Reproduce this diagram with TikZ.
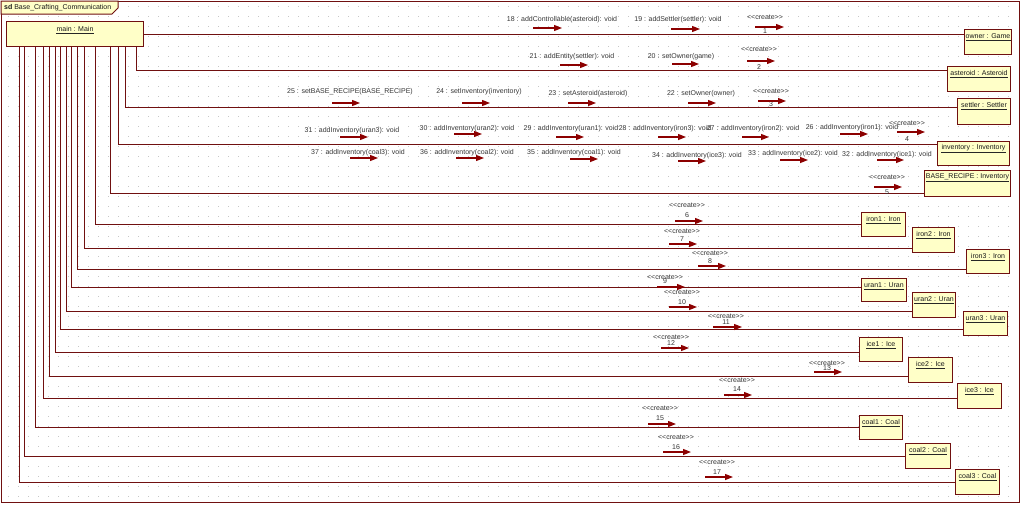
\documentclass[tikz,border=0pt]{standalone}
\usepackage{fontspec}
\setmainfont{Liberation Sans}
\usetikzlibrary{arrows.meta}
\definecolor{ln}{RGB}{112,16,16}
\definecolor{ar}{RGB}{140,0,0}
\definecolor{fillY}{RGB}{255,255,200}
\definecolor{txt}{RGB}{55,55,55}
\tikzset{
  conn/.style={draw=ln, line width=1pt},
  msg/.style={draw=ar, line width=1.3pt, -{Triangle[length=8pt,width=6pt]}},
  obj/.style={draw=ln, fill=fillY, line width=1pt, anchor=north west, inner sep=0pt},
  olbl/.style={font=\fontsize{7}{8}\selectfont, text=black!90, inner sep=0pt, minimum height=7pt},
  mlbl/.style={font=\fontsize{7}{8}\selectfont, text=txt, inner sep=0pt},
  uline/.style={draw=black!85, line width=0.9pt},
  griddot/.style={draw=gray!45, line width=0.8pt, dash pattern=on 0.8pt off 9.2pt},
}
\newcommand\objbox[6]{%
  \node[obj, minimum width=#4pt, minimum height=#5pt] (#1) at (#2,#3) {};
  \node[olbl] (#1L) at ([yshift=-7pt]#1.north) {#6};
  \draw[uline] ([yshift=-0.5pt]#1L.south west) -- ([yshift=-0.5pt]#1L.south east);
}
\newcommand\crmsg[7]{%
  \node[mlbl] (cr#1) at (#2,#3) {{<}{<}create{>}{>}};
  \node[mlbl] (n#1) at (#2,#4) {#1};
  \draw[msg] (#5,#7) -- (#6,#7);
}
\newcommand\opmsg[7]{%
  \node[mlbl] (m#1) at (#2,#3) {#4};
  \draw[msg] (#5,#7) -- (#6,#7);
}
\begin{document}
\begin{tikzpicture}[x=1pt,y=-1pt]
\useasboundingbox (0,0) rectangle (1022,504);
\fill[white] (0,0) rectangle (1022,504);
% grid
\foreach \r in {0,...,49} \draw[griddot] (8,\r*10+6) -- (1015,\r*10+6);
% frame
\draw[conn] (1,1) rectangle (1019,502);
\filldraw[fill=fillY, draw=ln, line width=1pt] (1,1) -- (118,1) -- (118,8) -- (112,14) -- (1,14) -- cycle;
\node[olbl, anchor=west] (title) at (4,7.5) {\textbf{sd} Base\_Crafting\_Communication};
% main
\node[obj, minimum width=137pt, minimum height=25pt] (main) at (6,21) {};
\node[olbl] (mainL) at ([yshift=-8pt]main.north) {main : Main};
\draw[uline] ([yshift=-0.5pt]mainL.south west) -- ([yshift=-0.5pt]mainL.south east);
% objects
\objbox{own}{964}{29}{47}{25}{owner : Game}
\objbox{ast}{947}{66}{63}{25}{asteroid : Asteroid}
\objbox{set}{957}{98}{53}{26}{settler : Settler}
\objbox{inv}{937}{141}{72}{24}{inventory : Inventory}
\objbox{base}{924}{170}{86}{26}{BASE\_RECIPE : Inventory}
\objbox{ia}{861}{212}{44}{24}{iron1 : Iron}
\objbox{ib}{912}{227}{42}{25}{iron2 : Iron}
\objbox{ic}{966}{249}{43}{24}{iron3 : Iron}
\objbox{ua}{861}{278}{45}{23}{uran1 : Uran}
\objbox{ub}{912}{292}{43}{25}{uran2 : Uran}
\objbox{uc}{963}{311}{44}{24}{uran3 : Uran}
\objbox{ca}{859}{337}{43}{24}{ice1 : Ice}
\objbox{cb}{908}{357}{44}{25}{ice2 : Ice}
\objbox{cc}{957}{383}{44}{25}{ice3 : Ice}
\objbox{ka}{859}{415}{43}{24}{coal1 : Coal}
\objbox{kb}{905}{443}{45}{25}{coal2 : Coal}
\objbox{kc}{955}{469}{44}{25}{coal3 : Coal}
% connectors
\draw[conn] (main.east) -- (own.west |- main.east);
\draw[conn] (main.south -| 136,0) |- (ast.west |- 0,70);
\draw[conn] (main.south -| 125,0) |- (set.west |- 0,107);
\draw[conn] (main.south -| 118,0) |- (inv.west |- 0,144);
\draw[conn] (main.south -| 110,0) |- (base.west |- 0,193);
\draw[conn] (main.south -| 95,0) |- (ia.west |- 0,224);
\draw[conn] (main.south -| 84,0) |- (ib.west |- 0,248);
\draw[conn] (main.south -| 77,0) |- (ic.west |- 0,269);
\draw[conn] (main.south -| 71,0) |- (ua.west |- 0,287);
\draw[conn] (main.south -| 66,0) |- (ub.west |- 0,311);
\draw[conn] (main.south -| 60,0) |- (uc.west |- 0,329);
\draw[conn] (main.south -| 55,0) |- (ca.west |- 0,352);
\draw[conn] (main.south -| 49,0) |- (cb.west |- 0,376);
\draw[conn] (main.south -| 43,0) |- (cc.west |- 0,398);
\draw[conn] (main.south -| 35,0) |- (ka.west |- 0,427);
\draw[conn] (main.south -| 24,0) |- (kb.west |- 0,456);
\draw[conn] (main.south -| 19,0) |- (kc.west |- 0,482);
% messages row 1
\opmsg{18}{562}{20}{18 : addControllable(asteroid): void}{533}{562}{28}
\opmsg{19}{678}{20}{19 : addSettler(settler): void}{671}{700}{29}
\crmsg{1}{765}{17}{31}{755}{784}{27}
% row 2
\opmsg{21}{572}{57}{21 : addEntity(settler): void}{560}{588}{65}
\opmsg{20}{681}{57}{20 : setOwner(game)}{672}{699}{64}
\crmsg{2}{759}{49}{67}{747}{775}{61}
% row 3
\opmsg{25}{350}{92}{25 : setBASE\_RECIPE(BASE\_RECIPE)}{332}{360}{103}
\opmsg{24}{479}{92}{24 : setInventory(inventory)}{462}{490}{103}
\opmsg{23}{588}{94}{23 : setAsteroid(asteroid)}{568}{596}{103}
\opmsg{22}{701}{94}{22 : setOwner(owner)}{688}{716}{103}
\crmsg{3}{771}{91}{104}{758}{786}{101}
% row 4
\opmsg{31}{352}{131}{31 : addInventory(uran3): void}{340}{368}{137}
\opmsg{30}{467}{129}{30 : addInventory(uran2): void}{454}{482}{134}
\opmsg{29}{571}{129}{29 : addInventory(uran1): void}{556}{584}{137}
\opmsg{28}{665}{129}{28 : addInventory(iron3): void}{658}{686}{137}
\opmsg{27}{753}{129}{27 : addInventory(iron2): void}{742}{769}{137}
\opmsg{26}{852}{128}{26 : addInventory(iron1): void}{840}{868}{134}
\crmsg{4}{907}{123}{139}{897}{925}{132}
% row 5
\opmsg{37}{358}{153}{37 : addInventory(coal3): void}{350}{378}{158}
\opmsg{36}{467}{153}{36 : addInventory(coal2): void}{456}{484}{158}
\opmsg{35}{574}{153}{35 : addInventory(coal1): void}{570}{598}{159}
\opmsg{34}{697}{156}{34 : addInventory(ice3): void}{678}{706}{161}
\opmsg{33}{793}{154}{33 : addInventory(ice2): void}{780}{808}{160}
\opmsg{32}{887}{155}{32 : addInventory(ice1): void}{877}{904}{160}
\crmsg{5}{887}{177}{192}{874}{902}{187}
% creates
\crmsg{6}{687}{205}{215}{675}{703}{221}
\crmsg{7}{682}{231}{239}{669}{697}{244}
\crmsg{8}{710}{253}{261}{698}{726}{266}
\crmsg{9}{665}{277}{281}{657}{685}{287}
\crmsg{10}{682}{292}{302}{669}{697}{307}
\crmsg{11}{726}{316}{322}{713}{742}{327}
\crmsg{12}{671}{337}{343}{661}{689}{348}
\crmsg{13}{827}{363}{368}{814}{842}{372}
\crmsg{14}{737}{380}{389}{724}{752}{395}
\crmsg{15}{660}{408}{418}{648}{676}{424}
\crmsg{16}{676}{437}{447}{663}{691}{452}
\crmsg{17}{717}{462}{472}{705}{733}{477}
\end{tikzpicture}
\end{document}
